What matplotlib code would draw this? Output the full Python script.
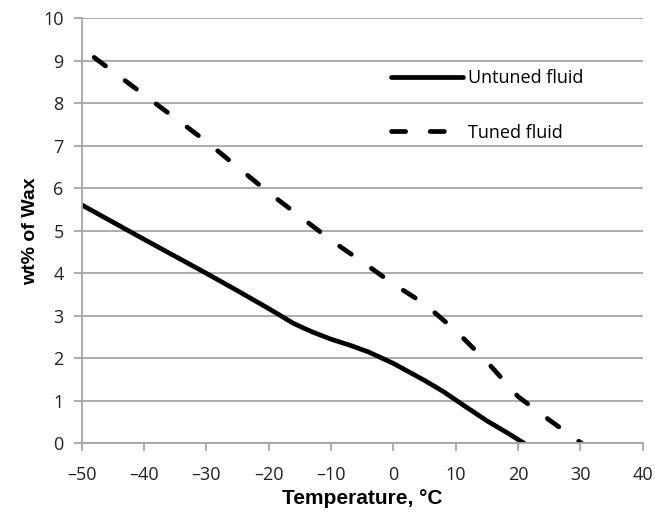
import matplotlib
matplotlib.use('Agg')
import matplotlib.pyplot as plt

# Data
untuned_temp = [-50, -40, -30, -25, -20, -16, -13, -10, -7, -4, 0, 3, 5, 8, 11, 15, 18, 21]
untuned_wax = [5.61, 4.80, 4.00, 3.59, 3.17, 2.82, 2.62, 2.45, 2.31, 2.15, 1.88, 1.64, 1.48, 1.22, 0.92, 0.53, 0.27, 0.0]

tuned_temp = [-48, -40, -30, -20, -10, -5, 0, 5, 10, 15, 20, 25, 30.2]
tuned_wax = [9.08, 8.20, 7.10, 5.90, 4.78, 4.27, 3.75, 3.28, 2.65, 1.92, 1.10, 0.55, 0.0]

X_TICKS = list(range(-50, 41, 10))
Y_TICKS = list(range(0, 11))

TICK_FONT = 'Open Sans'
LABEL_FONT = 'Liberation Sans'
GRID = '#a6a6a6'

fig = plt.figure(figsize=(6.55, 5.17), dpi=100)
ax = fig.add_axes([0.1247, 0.1425, 0.8566, 0.8221])

ax.plot(untuned_temp, untuned_wax, color='black', lw=3.4,
        solid_capstyle='round', solid_joinstyle='round', label='Untuned fluid')
ax.plot(tuned_temp, tuned_wax, color='black', lw=3.4, linestyle=(0, (3.0, 5.2)),
        dash_capstyle='round', label='Tuned fluid')

ax.set_xlim(-50, 40)
ax.set_ylim(0, 10)
ax.set_xticks(X_TICKS)
ax.set_yticks(Y_TICKS)
ax.set_xticklabels([str(t).replace('-', '\u2013') for t in X_TICKS])
ax.set_yticklabels([str(t) for t in Y_TICKS])

ax.grid(axis='y', color=GRID, lw=1.3)
ax.set_axisbelow(True)
for s in ['top', 'right']:
    ax.spines[s].set_visible(False)
for s in ['left', 'bottom']:
    ax.spines[s].set_color(GRID)
    ax.spines[s].set_linewidth(1.3)

ax.tick_params(axis='both', colors=GRID, length=6, width=1.3, labelcolor='#222222',
               labelsize=13)
ax.tick_params(axis='x', pad=10)
ax.tick_params(axis='y', pad=7)
for lab in ax.get_xticklabels() + ax.get_yticklabels():
    lab.set_fontfamily(TICK_FONT)

ax.set_xlabel('Temperature, \u00b0C', fontfamily=LABEL_FONT, fontweight='bold',
              fontsize=15, labelpad=4)
ax.set_ylabel('wt% of Wax', fontfamily=LABEL_FONT, fontweight='bold',
              fontsize=14, labelpad=3)

leg = ax.legend(loc='upper left', bbox_to_anchor=(0.522, 0.918), frameon=False,
                handlelength=4.0, handletextpad=0.3, labelspacing=2.0,
                prop={'family': TICK_FONT, 'size': 13})

fig.savefig('out.png', dpi=100)
